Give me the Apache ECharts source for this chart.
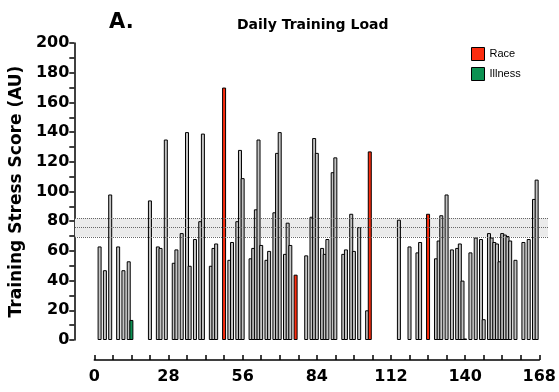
<!DOCTYPE html>
<html>
<head>
<meta charset="utf-8">
<script src="https://cdn.jsdelivr.net/npm/echarts@6/dist/echarts.min.js"></script>
<style>
  html, body { margin: 0; padding: 0; background: #fff; }
  #chart { width: 559px; height: 392px; }
</style>
</head>
<body>
<div id="chart"></div>
<script>
// training days and their stress score (AU)
var trainDays = [2, 4, 6, 9, 11, 13,
    21, 24, 25, 27, 30, 31, 33, 35, 36, 38, 40, 41, 44, 45, 46,
    51, 52, 54, 55, 56, 59, 60, 61, 62, 63, 65, 66, 68, 69, 70, 72, 73, 74,
    80, 82, 83, 84, 86, 87, 88, 90, 91, 94, 95, 97, 98, 100, 103,
    115, 119, 122, 123, 129, 130, 131, 133, 135, 137, 138, 139, 140, 142, 144, 146, 147,
    149, 150, 151, 152, 153, 154, 155, 156, 157, 159, 162, 164, 166, 167];
var trainLoads = [63, 47, 98, 63, 47, 53,
    94, 63, 62, 135, 52, 61, 72, 140, 50, 68, 80, 139, 50, 62, 65,
    54, 66, 80, 128, 109, 55, 62, 88, 135, 64, 54, 60, 86, 126, 140, 58, 79, 64,
    57, 83, 136, 126, 62, 58, 68, 113, 123, 58, 61, 85, 60, 76, 20,
    81, 63, 59, 66, 55, 67, 84, 98, 61, 62, 65, 40, 1, 59, 69, 68, 14,
    72, 69, 66, 65, 53, 72, 71, 70, 67, 54, 66, 68, 95, 108];

var raceDays = [49, 76, 104, 126];
var raceLoads = [170, 44, 127, 85];

var illnessDays = [14];
var illnessLoads = [13.5];

// typical load band (lower, mean, upper)
var band = [69.5, 75.7, 82];

function pairs(xs, ys) {
    return xs.map(function (x, i) { return [x, ys[i]]; });
}

var dom = document.getElementById('chart');
var myChart = echarts.init(dom);

var boldFont = 'DejaVu Sans, Verdana, sans-serif';

var barCommon = {
    type: 'bar',
    barWidth: 4,
    barGap: '-100%',
    xAxisIndex: 0,
    yAxisIndex: 0,
    animation: false
};

var option = {
    textStyle: { fontFamily: 'Liberation Sans, Arial, sans-serif' },
    title: [
        {
            text: 'A.',
            left: 104,
            top: 7,
            textStyle: { fontSize: 21, fontWeight: 'bold', color: '#000', fontFamily: boldFont }
        },
        {
            text: 'Daily Training Load',
            left: 232,
            top: 13,
            textStyle: { fontSize: 14, fontWeight: 'bold', color: '#000', fontFamily: boldFont }
        }
    ],
    legend: {
        data: ['Race', 'Illness'],
        orient: 'vertical',
        left: 466,
        top: 42,
        itemWidth: 13,
        itemHeight: 13,
        itemGap: 6,
        icon: 'rect',
        itemStyle: { borderColor: '#000', borderWidth: 1 },
        textStyle: { fontSize: 11, color: '#000' }
    },
    grid: [
        { left: 93, right: 16, top: 43, bottom: 52 },
        { left: 75, right: 11, top: 43, bottom: 52 }
    ],
    xAxis: [
        {
            type: 'value',
            gridIndex: 0,
            min: 0,
            max: 168,
            interval: 28,
            offset: 20,
            axisLine: { show: true, onZero: false, lineStyle: { color: '#000', width: 1.5 } },
            axisTick: { show: true, inside: true, length: 5, lineStyle: { color: '#000', width: 1.5 } },
            minorTick: { show: true, splitNumber: 4, length: 5, lineStyle: { color: '#000', width: 1.5 } },
            splitLine: { show: false },
            axisLabel: { margin: 9, fontSize: 16, fontWeight: 'bold', color: '#000', fontFamily: boldFont }
        },
        {
            type: 'value',
            gridIndex: 1,
            min: 0,
            max: 1,
            show: false
        }
    ],
    yAxis: [
        {
            type: 'value',
            gridIndex: 0,
            min: 0,
            max: 200,
            interval: 20,
            offset: 20,
            name: 'Training Stress Score (AU)',
            nameLocation: 'middle',
            nameGap: 46,
            nameTextStyle: { fontSize: 17, fontWeight: 'bold', color: '#000', fontFamily: boldFont },
            axisLine: { show: true, onZero: false, lineStyle: { color: '#000', width: 1.5 } },
            axisTick: { show: true, length: 5, lineStyle: { color: '#000', width: 1.5 } },
            minorTick: { show: true, splitNumber: 2, length: 5, lineStyle: { color: '#000', width: 1.5 } },
            splitLine: { show: false },
            axisLabel: { margin: 5, fontSize: 16, fontWeight: 'bold', color: '#000', fontFamily: boldFont }
        },
        {
            type: 'value',
            gridIndex: 1,
            min: 0,
            max: 200,
            show: false
        }
    ],
    series: [
        {
            name: 'band',
            type: 'line',
            xAxisIndex: 1,
            yAxisIndex: 1,
            data: [],
            silent: true,
            z: 0,
            markArea: {
                silent: true,
                itemStyle: { color: '#ebebeb' },
                data: [[{ yAxis: band[0] }, { yAxis: band[2] }]]
            },
            markLine: {
                silent: true,
                symbol: 'none',
                label: { show: false },
                lineStyle: { color: '#666', type: 'dotted', width: 1 },
                data: band.map(function (v) { return { yAxis: v }; })
            }
        },
        Object.assign({}, barCommon, {
            name: 'Training',
            data: pairs(trainDays, trainLoads),
            itemStyle: { color: '#c4c4c4', borderColor: '#000', borderWidth: 1 },
            z: 2
        }),
        Object.assign({}, barCommon, {
            name: 'Race',
            data: pairs(raceDays, raceLoads),
            itemStyle: { color: '#fb2c0e', borderColor: '#000', borderWidth: 1 },
            z: 3
        }),
        Object.assign({}, barCommon, {
            name: 'Illness',
            data: pairs(illnessDays, illnessLoads),
            itemStyle: { color: '#0c9152', borderColor: '#000', borderWidth: 1 },
            z: 3
        })
    ]
};

myChart.setOption(option);
</script>
</body>
</html>
